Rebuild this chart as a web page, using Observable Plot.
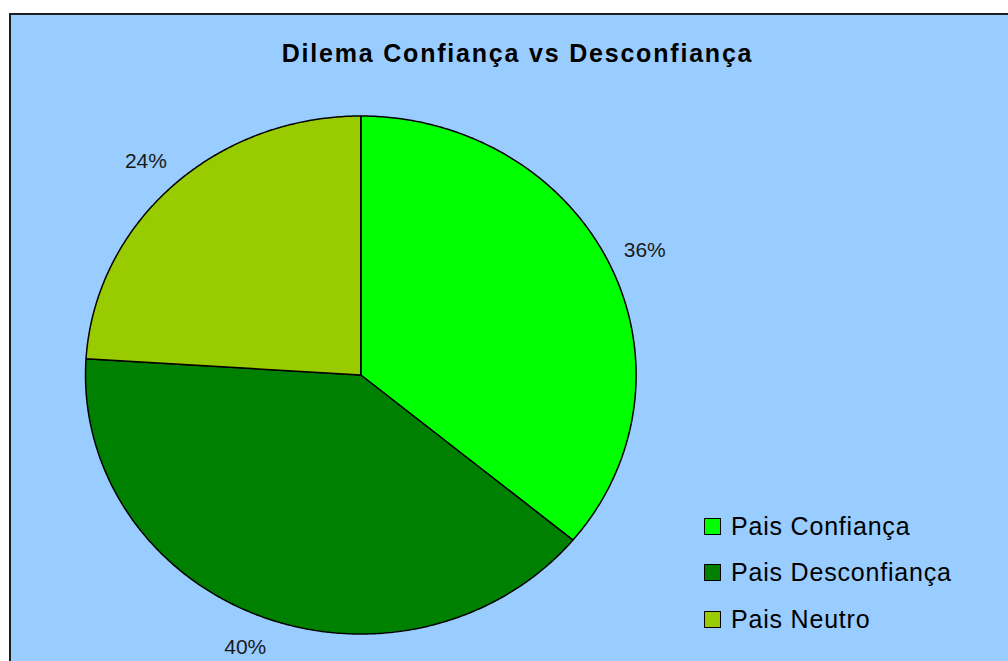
<!DOCTYPE html>
<html><head><meta charset="utf-8">
<script src="https://cdn.jsdelivr.net/npm/d3@7"></script>
<script src="https://cdn.jsdelivr.net/npm/@observablehq/plot@0.6"></script>
<style>
html,body{margin:0;padding:0;background:#fff;overflow:hidden;width:1008px;height:661px;position:relative}
#frame{position:absolute;left:9px;top:13px;width:1100px;height:700px;background:#99CCFF;border:2px solid #1e1e1e;}
#title{position:absolute;left:0;width:1035px;top:41px;line-height:25px;text-align:center;font-weight:bold;font-size:25px;font-family:"Liberation Sans",Arial,sans-serif;color:#000;letter-spacing:1.8px;white-space:nowrap}
#chart{position:absolute;left:0;top:0}
#legend{position:absolute;left:704px;top:0;font-family:"Liberation Sans",Arial,sans-serif;font-size:25px;letter-spacing:0.8px;color:#000}
.row{position:absolute;left:0;display:flex;align-items:center;height:25px;white-space:nowrap}
.sw{width:15px;height:15px;border:1px solid #000;margin-right:10px;box-sizing:content-box}
</style></head><body>
<div id="frame"></div>
<div id="title">Dilema Confiança vs Desconfiança</div>
<div id="chart"></div>
<div id="legend"></div>
<script>
const categories = ["Pais Confiança", "Pais Desconfiança", "Pais Neutro"];
const values = [36, 40, 24];
const labels = ["36%", "40%", "24%"];
const colors = ["#00FF00", "#008000", "#99CC00"];

const total = d3.sum(values);
let acc = 0;
const slices = categories.map((c, i) => {
  const a0 = acc / total * 2 * Math.PI;
  acc += values[i];
  const a1 = acc / total * 2 * Math.PI;
  return {c, a0, a1, label: labels[i]};
});
const pts = [];
for (const s of slices) {
  pts.push({c: s.c, x: 0, y: 0});
  const n = Math.max(2, Math.ceil((s.a1 - s.a0) / (Math.PI / 360)));
  for (let k = 0; k <= n; k++) {
    const a = s.a0 + (s.a1 - s.a0) * k / n;
    pts.push({c: s.c, x: Math.sin(a), y: Math.cos(a)});
  }
  pts.push({c: s.c, x: 0, y: 0});
}
const labelPts = slices.map(s => {
  const m = (s.a0 + s.a1) / 2;
  return {x: 1.14 * Math.sin(m), y: 1.13 * Math.cos(m), label: s.label};
});

const plot = Plot.plot({
  width: 1008, height: 661, margin: 0,
  style: {background: "transparent", overflow: "visible"},
  x: {domain: [-1, 1], range: [85, 635.6], axis: null},
  y: {domain: [-1, 1], range: [633.5, 115.5], axis: null},
  color: {domain: categories, range: colors},
  marks: [
    Plot.line(pts, {x: "x", y: "y", z: "c", fill: "c", stroke: "#000", strokeWidth: 1.5, curve: "linear", strokeLinejoin: "miter"}),
    Plot.text(labelPts, {x: "x", y: "y", text: "label", fontSize: 21, fill: "#1a1a1a", fontFamily: "Liberation Sans, Arial, sans-serif"})
  ]
});
document.getElementById("chart").appendChild(plot);

const legend = d3.select("#legend");
const rowCenters = [526, 572.5, 619];
categories.forEach((c, i) => {
  const row = legend.append("div").attr("class", "row").style("top", (rowCenters[i] - 12.5) + "px");
  row.append("div").attr("class", "sw").style("background", colors[i]);
  row.append("span").text(c);
});
</script>
</body></html>
